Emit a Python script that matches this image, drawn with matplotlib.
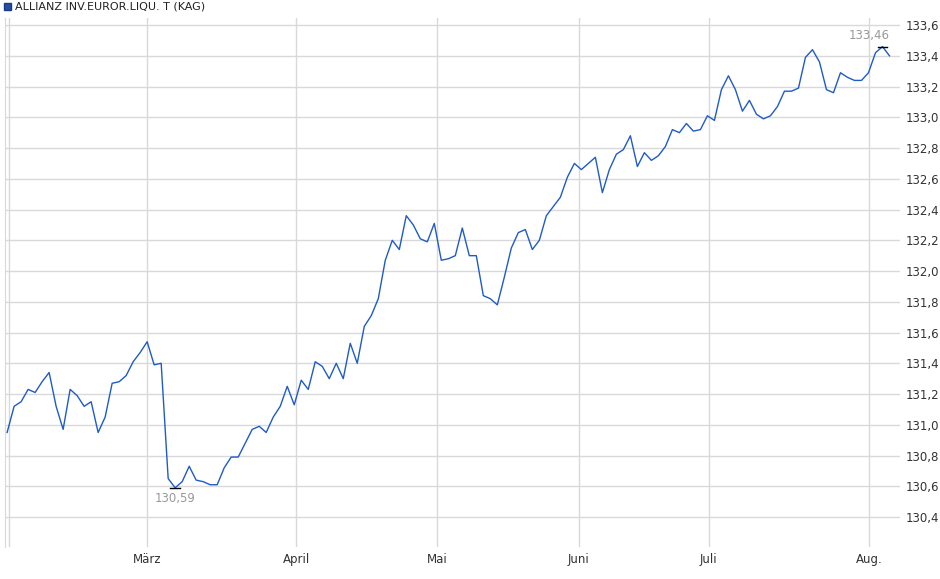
import matplotlib
matplotlib.use("Agg")
import matplotlib.pyplot as plt
import numpy as np

values = [130.95,131.12,131.15,131.23,131.21,131.28,131.34,131.12,130.97,131.23,
          131.19,131.12,131.15,130.95,131.05,131.27,131.28,131.32,131.41,131.47,
          131.54,131.39,131.40,130.65,130.59,130.63,130.73,130.64,130.63,130.61,
          130.61,130.72,130.79,130.79,130.88,130.97,130.99,130.95,131.05,131.12,
          131.25,131.13,131.29,131.23,131.41,
          131.38,131.30,131.40,131.30,131.53,131.40,131.64,131.71,131.82,132.07,
          132.20,132.14,132.36,132.30,132.21,132.19,132.31,132.07,132.08,132.10,
          132.28,132.10,132.10,131.84,131.82,131.78,131.96,132.15,132.25,132.27,
          132.14,132.20,132.36,132.42,132.48,132.61,
          132.70,132.66,132.70,132.74,132.51,132.66,132.76,132.79,132.88,132.68,
          132.77,132.72,132.75,132.81,132.92,132.90,132.96,132.91,132.92,133.01,
          132.98,133.18,133.27,133.18,133.04,133.11,133.02,132.99,133.01,133.07,
          133.17,133.17,133.19,133.39,133.44,133.36,133.18,133.16,133.29,133.26,
          133.24,133.24,133.29,133.42,133.46,133.40]
month_labels = ["März", "April", "Mai", "Juni", "Juli", "Aug."]
month_pos = [20, 41.3, 61.4, 81.6, 100.2, 123.1]
yticks = [130.4,130.6,130.8,131.0,131.2,131.4,131.6,131.8,132.0,132.2,132.4,132.6,132.8,133.0,133.2,133.4,133.6]
title = "ALLIANZ INV.EUROR.LIQU. T (KAG)"

x = np.arange(len(values))
fig = plt.figure(figsize=(9.4, 5.79), dpi=100)
ax = fig.add_axes([5/940, 1-547/579, 895/940, 529/579])
ax.plot(x, values, color="#1f5bc6", lw=1.0, zorder=3)
ax.set_xlim(-0.3, 127.5)
ax.set_ylim(130.205, 133.646)
ax.set_yticks(yticks)
ax.set_yticklabels([f"{v:.1f}".replace(".", ",") for v in yticks], fontsize=8.5, color="#333333")
ax.yaxis.tick_right()
ax.set_xticks(month_pos)
ax.set_xticklabels(month_labels, fontsize=8.5, color="#333333")
ax.tick_params(length=0, pad=4)
ax.grid(True, color="#d9d9d9", lw=1)
ax.axvline(0.2, color="#d9d9d9", lw=1)
for s in ax.spines.values():
    s.set_visible(False)
ax.spines["left"].set_visible(True)
ax.spines["left"].set_color("#d9d9d9")

imin = int(np.argmin(values)); imax = int(np.argmax(values))
for i, off, va in [(imin, -0.03, "top"), (imax, 0.03, "bottom")]:
    ax.plot([i-0.7, i+0.7], [values[i], values[i]], color="black", lw=1, zorder=4)
    ax.text(i + (0 if i == imin else 1.0), values[i] + off, f"{values[i]:.2f}".replace(".", ","),
            ha="center" if i == imin else "right", va=va, fontsize=8.5, color="#999999")

fig.patches.append(matplotlib.patches.Rectangle((4/940, 1-10/579), 7/940, 7/579,
                   transform=fig.transFigure, facecolor="#1f4fa8", edgecolor="#1f3a7a"))
fig.text(15/940, 1-6.5/579, title, fontsize=8, va="center", color="#222222")
fig.savefig("out.png", dpi=100)
